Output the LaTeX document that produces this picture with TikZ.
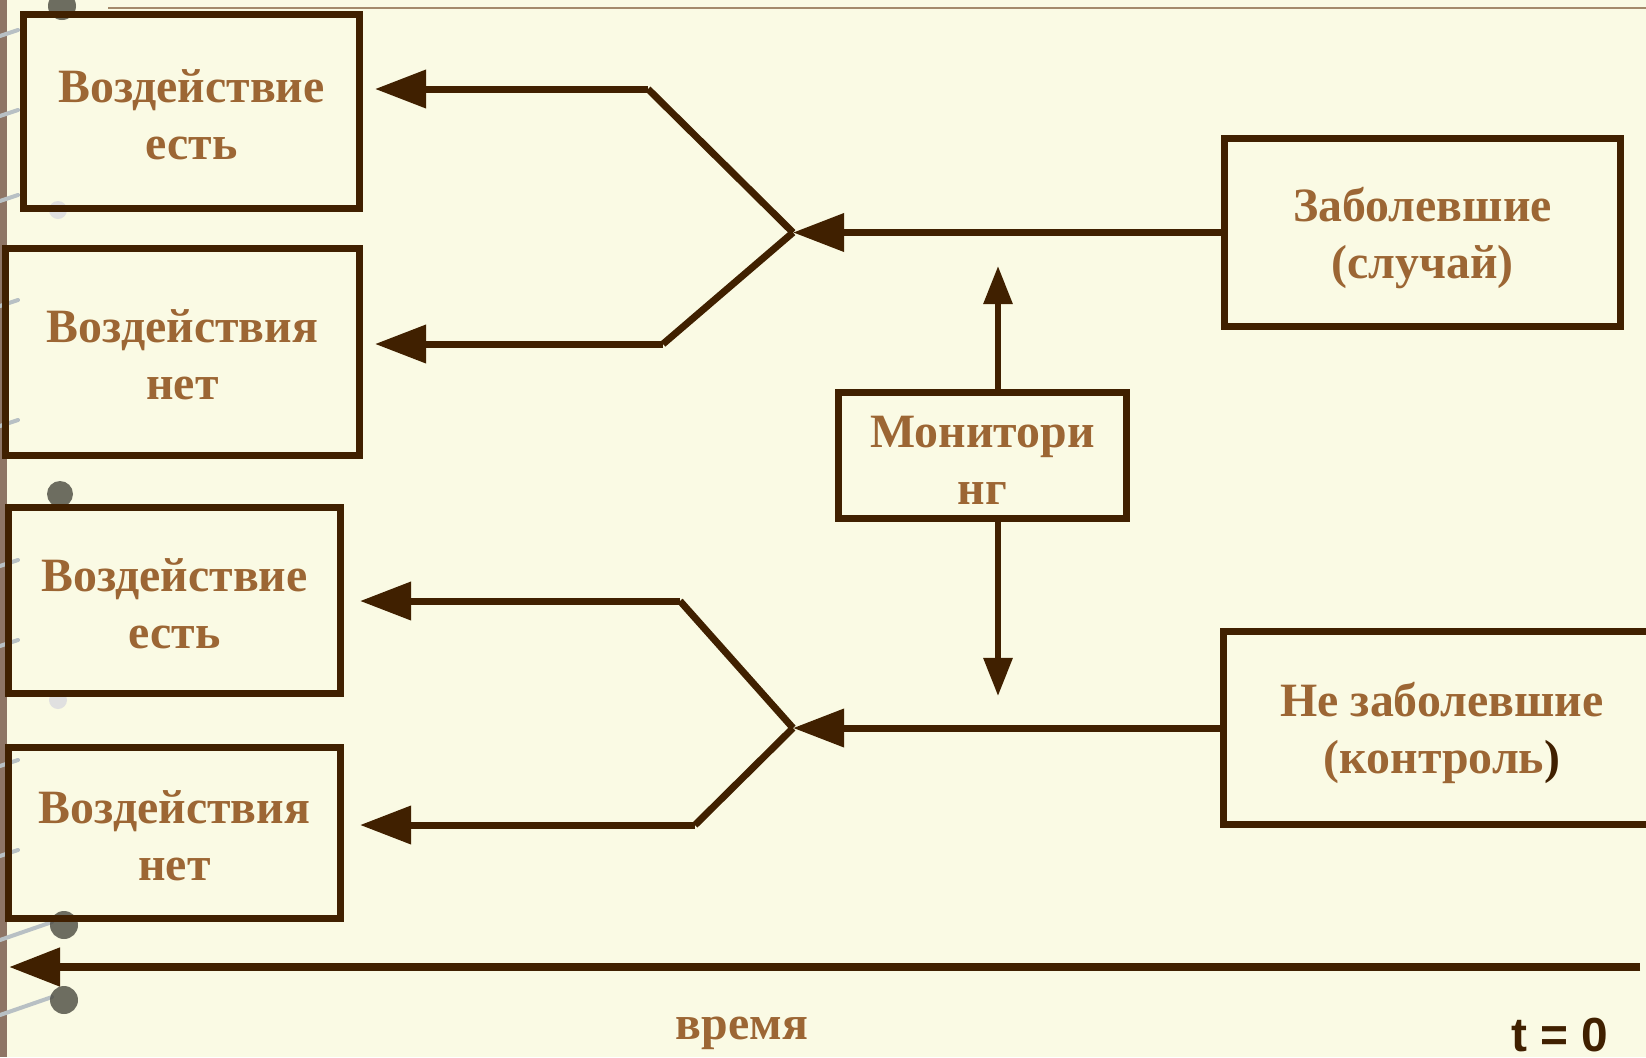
\documentclass[tikz,border=0pt]{standalone}
\usepackage{fontspec}
\setmainfont{Liberation Serif}
\newfontfamily\sansfnt{Liberation Sans}
\usetikzlibrary{arrows.meta}
\definecolor{bg}{HTML}{FAFAE4}
\definecolor{ink}{HTML}{402000}
\definecolor{txt}{HTML}{9C6634}
\definecolor{rulec}{HTML}{A48A6C}
\definecolor{strip}{HTML}{8E7565}
\definecolor{blob}{HTML}{4A4A40}
\definecolor{wire}{HTML}{B8C0C4}
\newcommand{\upstrut}[1]{\rule{0pt}{#1}}
\begin{document}
\begin{tikzpicture}[x=0.01cm,y=-0.01cm,
  box/.style={draw=ink, line width=0.07cm, text=txt, align=center, inner sep=0pt,
    font=\bfseries\fontsize{13.6}{16.2}\selectfont},
  conn/.style={draw=ink, line width=0.07cm},
  bigtip/.style={-{Triangle[length=0.51cm,width=0.37cm]}},
  smalltip/.style={-{Triangle[length=0.38cm,width=0.28cm]}},
  lbl/.style={text=txt, font=\bfseries\fontsize{13.6}{16.2}\selectfont, inner sep=0pt},
  wirel/.style={draw=wire, line width=0.04cm, line cap=round},
  blobc/.style={fill=blob, draw=none, opacity=0.8}
]
\useasboundingbox (0,0) rectangle (1646,1057);
\clip (0,0) rectangle (1646,1057);
\fill[bg] (0,0) rectangle (1646,1057);
% binding strip and rings
\fill[strip] (0,0) rectangle (7,1057);
\foreach \yy in {30,110,195,300,420,560,640,760,850}{
  \draw[wirel] (0,\yy+6) -- (18,\yy);
}
\fill[blobc] (62,6) circle (14);
\fill[blobc] (60,494) circle (13);
\fill[black!12] (58,210) circle (9);
\fill[black!12] (58,700) circle (9);
\draw[wirel] (0,940) -- (52,922);
\fill[blobc] (64,925) circle (14);
\draw[wirel] (0,1015) -- (52,997);
\fill[blobc] (64,1000) circle (14);
% top rule
\draw[rulec, line width=0.02cm] (108,8) -- (1646,8);
% boxes
\node[box, minimum width=3.35cm, minimum height=1.93cm] (B1) at (191.5,111.5) {\upstrut{0.39cm}Воздействие\\есть};
\node[box, minimum width=3.53cm, minimum height=2.06cm] (B2) at (182.5,352) {\upstrut{0.39cm}Воздействия\\нет};
\node[box, minimum width=3.32cm, minimum height=1.86cm] (B3) at (174.5,600.5) {\upstrut{0.39cm}Воздействие\\есть};
\node[box, minimum width=3.32cm, minimum height=1.71cm] (B4) at (174.5,833) {\upstrut{0.39cm}Воздействия\\нет};
\node[box, minimum width=3.96cm, minimum height=1.88cm] (RT) at (1422.5,232.5) {\upstrut{0.45cm}Заболевшие\\(случай)};
\node[box, minimum width=4.36cm, minimum height=1.92cm] (RB) at (1442,728) {\upstrut{0.45cm}Не заболевшие\\(контроль{\color{ink})}};
\node[box, minimum width=2.88cm, minimum height=1.26cm] (M) at (982.5,455.5) {\upstrut{0.41cm}Монитори\\нг};
% fork coordinates
\coordinate (f1) at (793,232.5);
\coordinate (a1) at (648,89);
\coordinate (t1) at (375,89);
\coordinate (a2) at (663,344);
\coordinate (t2) at (375,344);
\coordinate (f2) at (793,728);
\coordinate (b1) at (680,601);
\coordinate (t3) at (360,601);
\coordinate (b2) at (695,825);
\coordinate (t4) at (360,825);
\coordinate (u) at (998,266);
\coordinate (d) at (998,696);
\coordinate (tr) at (1640,967);
\coordinate (tl) at (9,967);
% upper fork
\draw[conn, bigtip] (RT.west) -- (f1);
\draw[conn] (f1) -- (a1);
\draw[conn, bigtip] (a1) -- (t1);
\draw[conn] (f1) -- (a2);
\draw[conn, bigtip] (a2) -- (t2);
% lower fork
\draw[conn, bigtip] (RB.west) -- (f2);
\draw[conn] (f2) -- (b1);
\draw[conn, bigtip] (b1) -- (t3);
\draw[conn] (f2) -- (b2);
\draw[conn, bigtip] (b2) -- (t4);
% monitoring arrows
\draw[conn, line width=0.06cm, smalltip] (u |- M.north) -- (u);
\draw[conn, line width=0.06cm, smalltip] (d |- M.south) -- (d);
% time axis
\draw[conn, line width=0.08cm, bigtip] (tr) -- (tl);
\node[lbl, anchor=base] (vr) at (742,1039) {время};
\node[anchor=base, inner sep=0pt, text=ink, font=\sansfnt\bfseries\fontsize{13.6}{16.2}\selectfont] (t0) at (1560,1051) {t = 0};
\end{tikzpicture}
\end{document}
